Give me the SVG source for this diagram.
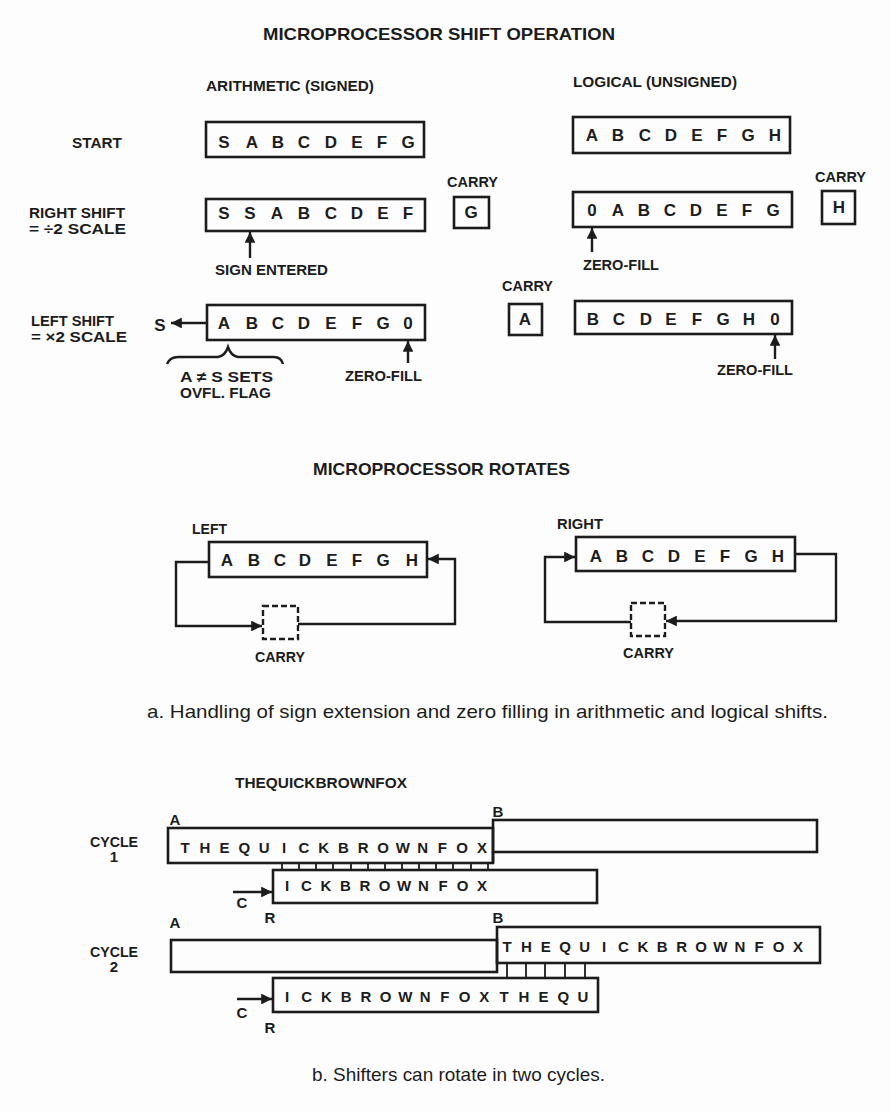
<svg xmlns="http://www.w3.org/2000/svg" width="890" height="1113" viewBox="0 0 890 1113">
<style>
.t{font-family:"Liberation Sans",Arial,sans-serif;font-weight:bold;fill:#1c1c1c}
.lb{font-size:15px}
.ti{font-size:17px}
.lt{font-size:17px;text-anchor:middle}
.lt2{font-size:15px;text-anchor:middle}
.cap{font-family:"Liberation Sans",Arial,sans-serif;font-size:19px;fill:#1c1c1c}
.box{fill:none;stroke:#1c1c1c;stroke-width:2.6}
.dbox{fill:none;stroke:#1c1c1c;stroke-width:2.4;stroke-dasharray:6 3}
.ln{fill:none;stroke:#1c1c1c;stroke-width:2.4}
.tk{fill:none;stroke:#1c1c1c;stroke-width:1.8}
</style>
<defs>
<marker id="ah" viewBox="0 0 10 10" refX="10" refY="5" markerWidth="4.5" markerHeight="4.5" orient="auto" markerUnits="strokeWidth">
<path d="M0,0 L10,5 L0,10 Z" fill="#1c1c1c"/>
</marker>
</defs>
<rect width="890" height="1113" fill="#fdfdfd"/>

<g id="titles">
<text class="t ti" x="263" y="40" textLength="352" lengthAdjust="spacingAndGlyphs">MICROPROCESSOR SHIFT OPERATION</text>
<text class="t lb" x="206" y="91" textLength="168" lengthAdjust="spacingAndGlyphs">ARITHMETIC (SIGNED)</text>
<text class="t lb" x="573" y="87" textLength="164" lengthAdjust="spacingAndGlyphs">LOGICAL (UNSIGNED)</text>
<text class="t ti" x="313" y="475" textLength="257" lengthAdjust="spacingAndGlyphs">MICROPROCESSOR ROTATES</text>
</g>

<g id="row-labels">
<text class="t lb" x="72" y="148" textLength="50" lengthAdjust="spacingAndGlyphs">START</text>
<text class="t lb" x="29" y="218" textLength="96" lengthAdjust="spacingAndGlyphs">RIGHT SHIFT</text>
<text class="t lb" x="29" y="234" textLength="97" lengthAdjust="spacingAndGlyphs">= ÷2 SCALE</text>
<text class="t lb" x="31" y="326" textLength="83" lengthAdjust="spacingAndGlyphs">LEFT SHIFT</text>
<text class="t lb" x="31" y="342" textLength="96" lengthAdjust="spacingAndGlyphs">= ×2 SCALE</text>
</g>

<g id="arith-start">
<rect class="box" x="206" y="122" width="218" height="35"/>
<text class="t lt" x="224 252 278 304 331 357 382 408" y="148">SABCDEFG</text>
</g>
<g id="logic-start">
<rect class="box" x="573" y="117" width="217" height="36"/>
<text class="t lt" x="592 618 645 671 697 722 748 775" y="141">ABCDEFGH</text>
</g>

<g id="arith-right">
<rect class="box" x="206" y="199" width="219" height="32"/>
<text class="t lt" x="224 250 277 304 331 357 383 408" y="219">SSABCDEF</text>
<text class="t lb" x="215" y="275" textLength="113" lengthAdjust="spacingAndGlyphs">SIGN ENTERED</text>
</g>
<g id="arith-right-carry">
<text class="t lb" x="447" y="187" textLength="51" lengthAdjust="spacingAndGlyphs">CARRY</text>
<rect class="box" x="454" y="197" width="35" height="31"/>
<text class="t lt" x="471" y="218">G</text>
</g>
<g id="logic-right">
<rect class="box" x="573" y="192" width="219" height="35"/>
<text class="t lt" x="592 618 644 670 696 722 747 773" y="216">0ABCDEFG</text>
<text class="t lb" x="583" y="270" textLength="76" lengthAdjust="spacingAndGlyphs">ZERO-FILL</text>
</g>
<g id="logic-right-carry">
<text class="t lb" x="815" y="182" textLength="51" lengthAdjust="spacingAndGlyphs">CARRY</text>
<rect class="box" x="822" y="191" width="33" height="33"/>
<text class="t lt" x="839" y="213">H</text>
</g>

<g id="arith-left">
<text class="t lt" x="160" y="331">S</text>
<rect class="box" x="207" y="305" width="218" height="35"/>
<text class="t lt" x="224 252 278 304 331 357 383 408" y="329">ABCDEFG0</text>
<path class="ln" d="M167,364 Q170,357 178,357 L218,357 Q225,356 228,347 Q231,356 238,357 L274,357 Q281,357 283,364" stroke-width="2.2"/>
<text class="t lb" x="180" y="382" textLength="93" lengthAdjust="spacingAndGlyphs">A ≠ S SETS</text>
<text class="t lb" x="180" y="398" textLength="91" lengthAdjust="spacingAndGlyphs">OVFL. FLAG</text>
<text class="t lb" x="345" y="381" textLength="77" lengthAdjust="spacingAndGlyphs">ZERO-FILL</text>
</g>
<g id="logic-left">
<text class="t lb" x="502" y="291" textLength="51" lengthAdjust="spacingAndGlyphs">CARRY</text>
<rect class="box" x="509" y="304" width="33" height="31"/>
<text class="t lt" x="525" y="325">A</text>
<rect class="box" x="575" y="301" width="217" height="33"/>
<text class="t lt" x="593 619 646 671 697 723 749 775" y="325">BCDEFGH0</text>
<text class="t lb" x="717" y="375" textLength="76" lengthAdjust="spacingAndGlyphs">ZERO-FILL</text>
</g>

<g id="rotate-left">
<text class="t lb" x="192" y="534" textLength="35" lengthAdjust="spacingAndGlyphs">LEFT</text>
<rect class="box" x="209" y="542" width="218" height="35"/>
<text class="t lt" x="227 254 280 305 332 357 383 412" y="566">ABCDEFGH</text>
</g>
<g id="rotate-left-carry">
<rect class="dbox" x="263" y="606" width="35" height="33"/>
<text class="t lb" x="255" y="662" textLength="50" lengthAdjust="spacingAndGlyphs">CARRY</text>
</g>
<g id="rotate-right">
<text class="t lb" x="557" y="529" textLength="46" lengthAdjust="spacingAndGlyphs">RIGHT</text>
<rect class="box" x="576" y="537" width="219" height="34"/>
<text class="t lt" x="596 622 648 674 700 725 751 778" y="562">ABCDEFGH</text>
</g>
<g id="rotate-right-carry">
<rect class="dbox" x="631" y="603" width="34" height="33"/>
<text class="t lb" x="623" y="658" textLength="51" lengthAdjust="spacingAndGlyphs">CARRY</text>
</g>

<g id="caption-a">
<text class="cap" x="147" y="718" textLength="681" lengthAdjust="spacingAndGlyphs">a. Handling of sign extension and zero filling in arithmetic and logical shifts.</text>
</g>

<g id="part-b-labels">
<text class="t lb" x="235" y="788" textLength="172" lengthAdjust="spacingAndGlyphs">THEQUICKBROWNFOX</text>
<text class="t lb" x="90" y="847" textLength="48" lengthAdjust="spacingAndGlyphs">CYCLE</text>
<text class="t lt2" x="114" y="862">1</text>
<text class="t lb" x="90" y="957" textLength="48" lengthAdjust="spacingAndGlyphs">CYCLE</text>
<text class="t lt2" x="114" y="972">2</text>
</g>

<g id="cycle1-A">
<text class="t lt2" x="175" y="825">A</text>
<rect class="box" x="168" y="828" width="325" height="35"/>
<text class="t lt2" x="185 204.8 224.6 244.4 264.2 284 303.8 323.6 343.4 363.2 383 402.8 422.6 442.4 462.2 482" y="853">THEQUICKBROWNFOX</text>
</g>
<g id="cycle1-B">
<text class="t lt2" x="498" y="817">B</text>
<rect class="box" x="493" y="820" width="324" height="32"/>
<line class="box" x1="493" y1="852" x2="493" y2="863"/>
</g>
<g id="cycle1-R">
<rect class="box" x="273" y="870" width="324" height="33"/>
<text class="t lt2" x="287 306.5 326 345.5 365 384.5 404 423.5 443 462.5 482" y="891">ICKBROWNFOX</text>
<text class="t lt2" x="242" y="908">C</text>
<text class="t lt2" x="270" y="923">R</text>
</g>

<g id="cycle2-A">
<text class="t lt2" x="175" y="928">A</text>
<rect class="box" x="171" y="940" width="326" height="32"/>
</g>
<g id="cycle2-B">
<text class="t lt2" x="498" y="923">B</text>
<rect class="box" x="497" y="927" width="323" height="36"/>
<text class="t lt2" x="507 526.4 545.8 565.2 584.6 604 623.4 642.8 662.2 681.6 701 720.4 739.8 759.2 778.6 798" y="952">THEQUICKBROWNFOX</text>
</g>
<g id="cycle2-R">
<rect class="box" x="273" y="978" width="325" height="34"/>
<text class="t lt2" x="287 306.7 326.5 346.2 366 385.7 405.4 425.2 444.9 464.6 484.3 504 523.8 543.5 563.3 583" y="1002">ICKBROWNFOXTHEQU</text>
<text class="t lt2" x="242" y="1018">C</text>
<text class="t lt2" x="270" y="1033">R</text>
</g>

<g id="caption-b">
<text class="cap" x="312" y="1081" textLength="293" lengthAdjust="spacingAndGlyphs">b. Shifters can rotate in two cycles.</text>
</g>

<g id="connectors">
<line class="ln" x1="250" y1="258" x2="250" y2="232" marker-end="url(#ah)"/>
<line class="ln" x1="592" y1="252" x2="592" y2="228" marker-end="url(#ah)"/>
<line class="ln" x1="206" y1="323" x2="171" y2="323" marker-end="url(#ah)"/>
<line class="ln" x1="408" y1="363" x2="408" y2="341" marker-end="url(#ah)"/>
<line class="ln" x1="775" y1="359" x2="775" y2="335" marker-end="url(#ah)"/>
<path class="ln" d="M208,562 H176 V626 H262" marker-end="url(#ah)"/>
<path class="ln" d="M298,624 H455 V559 H428" marker-end="url(#ah)"/>
<path class="ln" d="M796,554 H836 V621 H666" marker-end="url(#ah)"/>
<path class="ln" d="M631,622 H545 V557 H575" marker-end="url(#ah)"/>
<line class="ln" x1="233" y1="892" x2="272" y2="892" marker-end="url(#ah)"/>
<line class="ln" x1="237" y1="999" x2="272" y2="999" marker-end="url(#ah)"/>
<path class="tk" d="M282,864V870 M299,864V870 M316,864V870 M333,864V870 M351,864V870 M368,864V870 M385,864V870 M402,864V870 M419,864V870 M436,864V870 M453,864V870 M471,864V870 M488,864V870"/>
<path class="tk" d="M507,963V978 M526,963V978 M545,963V978 M565,963V978 M585,963V978"/>
</g>
</svg>
